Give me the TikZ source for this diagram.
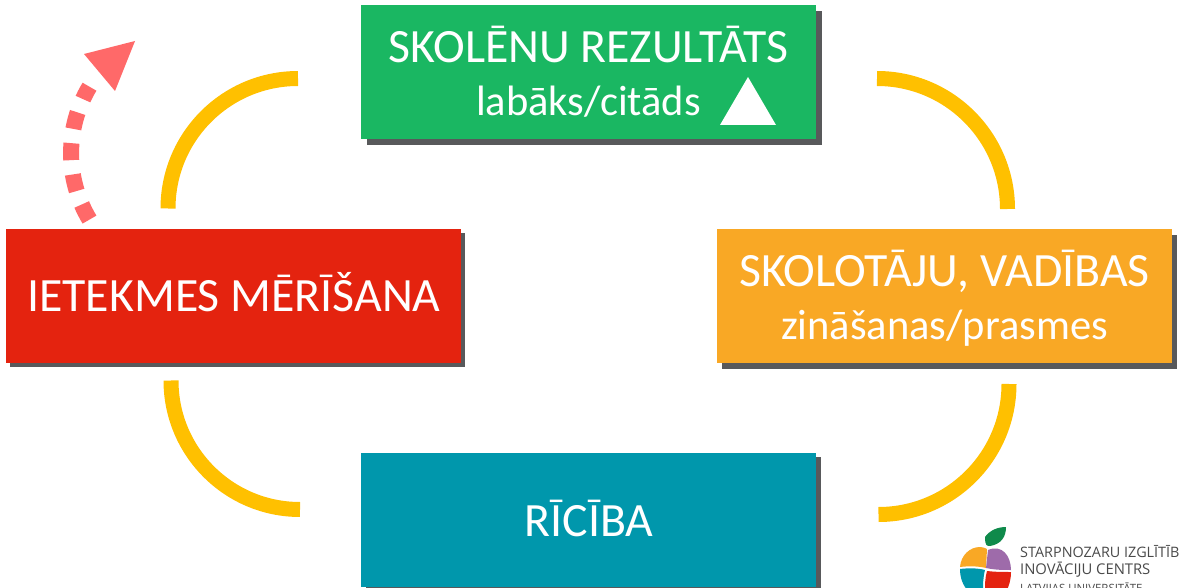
\documentclass[tikz,border=0pt]{standalone}
\usepackage{fontspec}
\setmainfont{Carlito}
\newfontfamily\logofont{Open Sans}
\definecolor{cgreen}{HTML}{1AB762}
\definecolor{corange}{HTML}{F9A825}
\definecolor{cred}{HTML}{E4230F}
\definecolor{cteal}{HTML}{0097AC}
\definecolor{cshadow}{HTML}{58595B}
\definecolor{carc}{HTML}{FFC000}
\definecolor{cpink}{HTML}{FF6969}
\definecolor{clogotext}{HTML}{4A4A4A}
\definecolor{cpurple}{HTML}{9E6BAA}
\definecolor{cleaf}{HTML}{0F8A4B}
\tikzset{
  stagebox/.style={minimum width=455pt,minimum height=134pt,inner sep=0pt},
  headline/.style={anchor=base,inner sep=0pt,text=white,font=\fontsize{47.8}{53}\selectfont},
  subline/.style={anchor=base,inner sep=0pt,text=white,font=\fontsize{42.5}{46}\selectfont},
  boxshadow/.style={fill=cshadow,draw=none},
  ring/.style={draw=carc,line width=15pt},
  nudge/.style={draw=cpink,line width=16pt,dash pattern=on 17pt off 14.4pt},
  logotext/.style={anchor=base west,inner sep=0pt,text=clogotext,font=\logofont\fontsize{14.4}{16}\selectfont}
}
\begin{document}
\begin{tikzpicture}[x=1pt,y=1pt,yscale=-1]
\useasboundingbox (0,0) rectangle (1179,588);
\fill[white] (0,0) rectangle (1179,588);
\begin{scope}
\clip (0,0) rectangle (1179,588);
% shadows
\fill[boxshadow] (367,11) rectangle (822,145);
\fill[boxshadow] (722,235) rectangle (1177,369);
\fill[boxshadow] (10,233) rectangle (465,367);
\fill[boxshadow] (366,457) rectangle (821,592);
% boxes
\node[stagebox,fill=cgreen] (result) at (588.5,72) {};
\node[stagebox,fill=corange] (skills) at (944.5,296) {};
\node[stagebox,fill=cred] (measure) at (233.5,296) {};
\node[stagebox,fill=cteal] (action) at (588.5,520) {};
% box texts
\node[headline] (resultA) at (588.5,63) {SKOLĒNU REZULTĀTS};
\node[subline] (resultB) at (588.5,116) {labāks/citāds};
\node[headline] (skillsA) at (944.5,287) {SKOLOTĀJU, VADĪBAS};
\node[subline] (skillsB) at (944.5,339.5) {zināšanas/prasmes};
\node[headline] (measureA) at (234,312) {IETEKMES MĒRĪŠANA};
\node[headline] (actionA) at (589,536) {RĪCĪBA};
\fill[white] (720,125) -- (748,77) -- (776,125) -- cycle;
% ring arcs
\coordinate (a1) at (298,78.5);
\coordinate (a2) at (877,78.5);
\coordinate (a3) at (1009,384);
\coordinate (a4) at (300,509.5);
\draw[ring] (a1) arc[start angle=-90,end angle=-180,radius=130pt];
\draw[ring] (a2) arc[start angle=-90,end angle=0,radius=130.5pt];
\draw[ring] (a3) arc[start angle=0,end angle=90,radius=130.5pt];
\draw[ring] (a4) arc[start angle=90,end angle=180,radius=129pt];
% dashed arrow
\coordinate (n0) at (89.5,219.6);
\draw[nudge] (n0) arc[start angle=149,end angle=211,radius=129pt];
\fill[cpink] (135,41) -- (84,54) -- (115,91) -- cycle;
% logo
\fill[corange] (960,567) .. controls (961,555) and (970,547) .. (980,547) .. controls (983,547) and (985,548) .. (987,549) -- (986,568) .. controls (978,566) and (968,566) .. (960,567) -- cycle;
\fill[cpurple] (988,550) .. controls (1002,544) and (1011,556) .. (1011,570) .. controls (1004,570) and (995,570) .. (986,568) -- cycle;
\fill[cteal] (960,569) .. controls (968,568) and (978,568) .. (985,570) .. controls (983,578) and (983,584) .. (983,592) -- (969,592) .. controls (963,586) and (960,578) .. (960,569) -- cycle;
\fill[cred] (987,571) .. controls (995,572) and (1004,572) .. (1011,572) .. controls (1011,580) and (1009,586) .. (1006,592) -- (985,592) .. controls (985,584) and (985,578) .. (987,571) -- cycle;
\fill[cleaf] (985,537) .. controls (990,530) and (998,527) .. (1006,527) .. controls (1006,536) and (1002,544) .. (990,546) .. controls (987,546) and (985,546) .. (985,537) -- cycle;
\node[logotext] (l1) at (1020,557.5) {STARPNOZARU IZGLĪTĪB};
\node[logotext,font=\logofont\fontsize{14.8}{16}\selectfont] (l2) at (1020,574) {INOVĀCIJU CENTRS};
\node[logotext,font=\logofont\fontsize{11.4}{13}\selectfont] (l3) at (1020,592) {LATVIJAS UNIVERSITĀTE};
\end{scope}
\end{tikzpicture}
\end{document}
